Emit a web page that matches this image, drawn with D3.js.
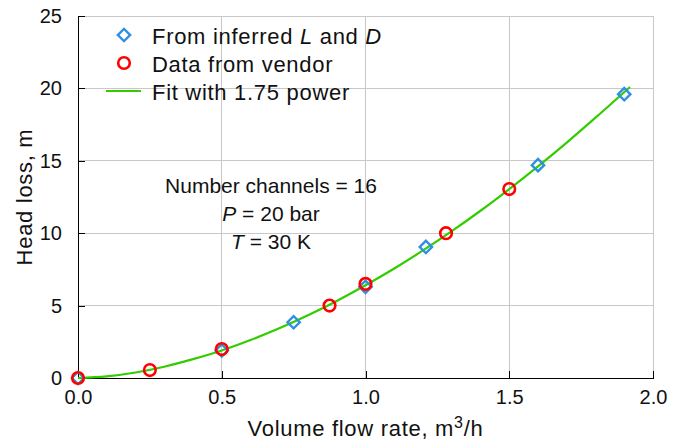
<!DOCTYPE html>
<html lang="en">
<head>
    <meta charset="UTF-8">
    <title>Head loss</title>
    <style>
        body { margin: 0; background: #fff; }
        #chart { font-family: "Liberation Sans", Arial, sans-serif; }
        .grid line { stroke: #c8c8c8; stroke-width: 1px; shape-rendering: crispEdges; }
        .axis path, .axis line { stroke: #000; shape-rendering: crispEdges; }
        .axis text { font-size: 20px; fill: #111; }
        .title { font-size: 22px; letter-spacing: 0.7px; fill: #111; }
    </style>
    <script src="https://d3js.org/d3.v7.min.js"></script>
</head>
<body>
    <div id="chart"></div>
    <script>
        // Blue diamonds (from inferred L and D)
        const inferredQ = [0.0, 0.5, 0.75, 1.0, 1.21, 1.6, 1.9];
        const inferredH = [0.0, 1.9, 3.85, 6.3, 9.05, 14.7, 19.6];

        // Red circles (data from vendor)
        const vendorQ = [0.0, 0.25, 0.5, 0.875, 1.0, 1.28, 1.5];
        const vendorH = [0.0, 0.55, 2.0, 5.0, 6.5, 10.0, 13.05];

        // Green fit curve
        const fitQ = [0, 0.1, 0.2, 0.3, 0.4, 0.5, 0.6, 0.7, 0.8, 0.9, 1.0, 1.1, 1.2, 1.3, 1.4, 1.5, 1.6, 1.7, 1.8, 1.92];
        const fitH = [0, 0.11, 0.38, 0.78, 1.3, 1.9, 2.62, 3.43, 4.33, 5.32, 6.4, 7.56, 8.81, 10.14, 11.55, 13.05, 14.62, 16.26, 17.98, 20.1];

        const xTicks = [0, 0.5, 1.0, 1.5, 2.0];
        const yTicks = [0, 5, 10, 15, 20, 25];

        const W = 673, H = 446;
        const margin = { top: 16, right: 20, bottom: 68, left: 78 };
        const width = W - margin.left - margin.right;
        const height = H - margin.top - margin.bottom;

        const svg = d3.select("#chart").append("svg")
            .attr("width", W)
            .attr("height", H);
        const g = svg.append("g")
            .attr("transform", `translate(${margin.left},${margin.top})`);

        const x = d3.scaleLinear().domain([0, 2]).range([0, width]);
        const y = d3.scaleLinear().domain([0, 25]).range([height, 0]);

        // grid
        const grid = g.append("g").attr("class", "grid");
        grid.selectAll(".gx").data(xTicks.slice(1)).enter().append("line")
            .attr("x1", d => x(d)).attr("x2", d => x(d))
            .attr("y1", 0).attr("y2", height);
        grid.selectAll(".gy").data(yTicks.slice(1)).enter().append("line")
            .attr("x1", 0).attr("x2", width)
            .attr("y1", d => y(d)).attr("y2", d => y(d));

        // axes, ticks point inward
        g.append("g")
            .attr("class", "axis")
            .attr("transform", `translate(0,${height})`)
            .call(d3.axisBottom(x).tickValues(xTicks).tickFormat(d3.format(".1f"))
                .tickSizeInner(-7).tickSizeOuter(0).tickPadding(12))
            .call(a => a.selectAll("text").attr("dy", "0.71em"));

        g.append("g")
            .attr("class", "axis")
            .call(d3.axisLeft(y).tickValues(yTicks).tickFormat(d3.format("d"))
                .tickSizeInner(-7).tickSizeOuter(0).tickPadding(16));

        // axis titles
        const xt = svg.append("text")
            .attr("class", "title")
            .attr("x", margin.left + width / 2)
            .attr("y", 436)
            .attr("text-anchor", "middle");
        xt.append("tspan").text("Volume flow rate, m");
        xt.append("tspan").attr("dy", -8).style("font-size", "16px").text("3");
        xt.append("tspan").attr("dy", 8).text("/h");

        svg.append("text")
            .attr("class", "title")
            .attr("transform", `translate(32,${margin.top + height / 2}) rotate(-90)`)
            .attr("text-anchor", "middle")
            .text("Head loss, m");

        // fit line
        const fitData = fitQ.map((q, i) => ({ q: q, h: fitH[i] }));
        const line = d3.line()
            .curve(d3.curveMonotoneX)
            .x(d => x(d.q))
            .y(d => y(d.h));
        g.append("path")
            .datum(fitData)
            .attr("d", line)
            .attr("fill", "none")
            .attr("stroke", "#33cc00")
            .attr("stroke-width", 2.2);

        const blue = "#2f8fe0", red = "#ff0000", green = "#33cc00";
        const diamond = d3.symbol().type(d3.symbolSquare).size(76);

        // diamonds
        g.selectAll(".dia")
            .data(inferredQ.map((q, i) => ({ q: q, h: inferredH[i] })))
            .enter().append("path")
            .attr("d", diamond)
            .attr("transform", d => `translate(${x(d.q)},${y(d.h)}) rotate(45)`)
            .attr("fill", "none")
            .attr("stroke", blue)
            .attr("stroke-width", 2.4);

        // circles
        g.selectAll(".circ")
            .data(vendorQ.map((q, i) => ({ q: q, h: vendorH[i] })))
            .enter().append("circle")
            .attr("cx", d => x(d.q))
            .attr("cy", d => y(d.h))
            .attr("r", 5.8)
            .attr("fill", "none")
            .attr("stroke", red)
            .attr("stroke-width", 2.6);

        // legend
        const legend = svg.append("g").attr("transform", "translate(124,35)");
        legend.append("path")
            .attr("d", diamond)
            .attr("transform", "rotate(45)")
            .attr("fill", "none").attr("stroke", blue).attr("stroke-width", 2.4);
        legend.append("circle")
            .attr("cy", 28).attr("r", 5.8)
            .attr("fill", "none").attr("stroke", red).attr("stroke-width", 2.6);
        legend.append("line")
            .attr("x1", -18).attr("x2", 17).attr("y1", 56).attr("y2", 56)
            .attr("stroke", green).attr("stroke-width", 2.2);

        const lt = legend.append("g").attr("class", "title");
        const l1 = lt.append("text").attr("x", 28).attr("y", 9);
        l1.append("tspan").text("From inferred ");
        l1.append("tspan").style("font-style", "italic").text("L");
        l1.append("tspan").text(" and ");
        l1.append("tspan").style("font-style", "italic").text("D");
        lt.append("text").attr("x", 28).attr("y", 37).text("Data from vendor");
        lt.append("text").attr("x", 28).attr("y", 65).text("Fit with 1.75 power");

        // annotation
        const ann = svg.append("g")
            .style("font-size", "21px").style("fill", "#111")
            .attr("text-anchor", "middle");
        ann.append("text").attr("x", 271).attr("y", 193).text("Number channels = 16");
        const a2 = ann.append("text").attr("x", 271).attr("y", 221);
        a2.append("tspan").style("font-style", "italic").text("P");
        a2.append("tspan").text(" = 20 bar");
        const a3 = ann.append("text").attr("x", 271).attr("y", 249);
        a3.append("tspan").style("font-style", "italic").text("T");
        a3.append("tspan").text(" = 30 K");
    </script>
</body>
</html>
